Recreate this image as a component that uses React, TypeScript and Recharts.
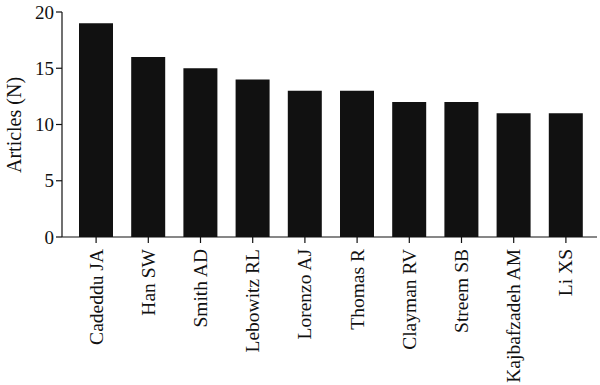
import { Bar, BarChart, XAxis, YAxis } from 'recharts';

const authors = [
  'Cadeddu JA',
  'Han SW',
  'Smith AD',
  'Lebowitz RL',
  'Lorenzo AJ',
  'Thomas R',
  'Clayman RV',
  'Streem SB',
  'Kajbafzadeh AM',
  'Li XS',
];
const articles = [19, 16, 15, 14, 13, 13, 12, 12, 11, 11];
const yTicks = [0, 5, 10, 15, 20];

const FONT = '"Liberation Serif", "DejaVu Serif", serif';

const data = authors.map((name, i) => ({ name, value: articles[i] }));

function AuthorTick({ x, y, payload }: any) {
  const ty = y + 4;
  return (
    <text
      x={x}
      y={ty}
      transform={`rotate(-90, ${x}, ${ty})`}
      textAnchor="end"
      dominantBaseline="central"
      fontFamily={FONT}
      fontSize={19.5}
      fill="#111"
    >
      {payload.value}
    </text>
  );
}

function YLabel() {
  return (
    <text
      x={14}
      y={125}
      transform="rotate(-90, 14, 125)"
      textAnchor="middle"
      dominantBaseline="central"
      fontFamily={FONT}
      fontSize={20}
      fill="#111"
    >
      Articles (N)
    </text>
  );
}

export default function App() {
  return (
    <div style={{ position: 'absolute', left: 0, top: 0, background: '#fff' }}>
      <BarChart width={600} height={385} data={data} margin={{ top: 12, right: 3, left: 0, bottom: 0 }} barSize={34}>
        <XAxis
          dataKey="name"
          interval={0}
          height={148}
          padding={{ left: 8, right: 5 }}
          tick={<AuthorTick />}
          tickSize={6}
          axisLine={{ stroke: '#111', strokeWidth: 1.2 }}
          tickLine={{ stroke: '#111', strokeWidth: 1.2 }}
        />
        <YAxis
          width={62}
          domain={[0, 20]}
          ticks={yTicks}
          tickSize={6}
          tick={{ fontFamily: FONT, fontSize: 19, fill: '#111' }}
          axisLine={{ stroke: '#111', strokeWidth: 1.2 }}
          tickLine={{ stroke: '#111', strokeWidth: 1.2 }}
          label={<YLabel />}
        />
        <Bar dataKey="value" fill="#111111" isAnimationActive={false} />
      </BarChart>
    </div>
  );
}
